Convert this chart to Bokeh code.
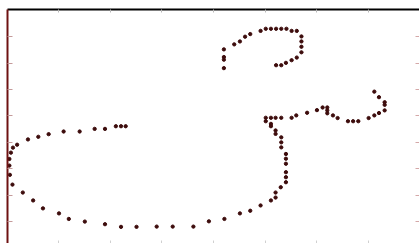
from bokeh.plotting import figure
from bokeh.models import LinearAxis, FixedTicker, Range1d
from bokeh.embed import file_html
from bokeh.resources import INLINE

x_vals = [2.30, 2.21, 2.11, 1.90, 1.70, 1.41, 1.10, 0.81, 0.61, 0.41, 0.20, 0.12, 0.08, 0.05, 0.05, 0.06, 0.11,
          0.31, 0.51, 0.70, 1.01, 1.20, 1.51, 1.90, 2.21, 2.51, 2.90, 3.21, 3.61, 3.91, 4.21, 4.51, 4.71, 4.91,
          5.11, 5.20, 5.20, 5.30,
          5.40, 5.40, 5.40, 5.40, 5.40, 5.40, 5.31, 5.31, 5.31, 5.20, 5.20, 5.11, 5.11, 5.01, 5.01, 5.11, 5.20, 5.31,
          5.51, 5.60, 5.81, 6.00, 6.11, 6.20, 6.20, 6.20, 6.31, 6.40, 6.60, 6.70, 6.80, 7.00, 7.11, 7.20, 7.31,
          7.31, 7.31, 7.20, 7.11,
          4.20, 4.20, 4.20, 4.20, 4.40, 4.51, 4.61, 4.71, 4.91, 5.01, 5.11, 5.21, 5.31, 5.41, 5.51, 5.61, 5.70,
          5.70, 5.70, 5.70, 5.61, 5.51, 5.40, 5.31, 5.21]
y_vals = [4.61, 4.61, 4.61, 4.51, 4.51, 4.41, 4.41, 4.31, 4.21, 4.11, 3.91, 3.80, 3.61, 3.37, 3.12, 2.77, 2.40,
          2.10, 1.80, 1.50, 1.31, 1.10, 1.00, 0.90, 0.80, 0.80, 0.81, 0.81, 0.81, 1.01, 1.10, 1.31, 1.41, 1.61,
          1.80, 1.91, 2.10, 2.30,
          2.49, 2.68, 2.87, 3.19, 3.38, 3.56, 3.81, 4.00, 4.19, 4.32, 4.45, 4.61, 4.70, 4.80, 4.93, 4.93, 4.93, 4.93,
          4.93, 5.02, 5.12, 5.22, 5.32, 5.32, 5.21, 5.10, 5.02, 4.92, 4.80, 4.80, 4.80, 4.92, 5.02, 5.11, 5.21,
          5.42, 5.52, 5.71, 5.92,
          7.52, 7.23, 7.13, 6.81, 7.71, 7.82, 8.00, 8.10, 8.22, 8.30, 8.30, 8.30, 8.30, 8.30, 8.22, 8.22, 8.01,
          7.82, 7.62, 7.41, 7.21, 7.11, 7.01, 6.92, 6.92]
x_ticks = [1, 2, 3, 4, 5, 6, 7]
y_ticks = [1, 2, 3, 4, 5, 6, 7, 8]

p = figure(width=419, height=243, output_backend="svg", toolbar_location=None,
           x_axis_location=None, y_axis_location=None,
           x_range=Range1d(0.014, 7.984), y_range=Range1d(0.17, 9.03),
           min_border_left=7, min_border_right=0, min_border_top=9, min_border_bottom=0)
p.outline_line_color = None
p.grid.visible = False
p.background_fill_color = "white"
p.border_fill_color = "white"

def make_axis(ticks, line_color, line_width, tick_color, tick_len):
    ax = LinearAxis(ticker=FixedTicker(ticks=ticks))
    ax.axis_line_color = line_color
    ax.axis_line_width = line_width
    ax.major_tick_in = tick_len
    ax.major_tick_out = 0
    ax.minor_tick_in = 0
    ax.minor_tick_out = 0
    ax.major_tick_line_color = tick_color
    ax.major_label_overrides = {t: "" for t in ticks}
    ax.major_label_text_font_size = "0px"
    ax.major_label_standoff = 0
    ax.axis_label = None
    return ax

p.add_layout(make_axis(y_ticks, "#6e1212", 2, "#c49a9a", 5), "left")
p.add_layout(make_axis(y_ticks, None, 1, "#d4a8a8", 4), "right")
p.add_layout(make_axis(x_ticks, "black", 2, "#b8b8b8", 3), "above")
p.add_layout(make_axis(x_ticks, None, 1, "#d0d0d0", 3), "below")

p.scatter(x_vals, y_vals, size=3.3, color="#3d0c0c", line_color="#3d0c0c")

open("out.html", "w").write(file_html(p, INLINE))
